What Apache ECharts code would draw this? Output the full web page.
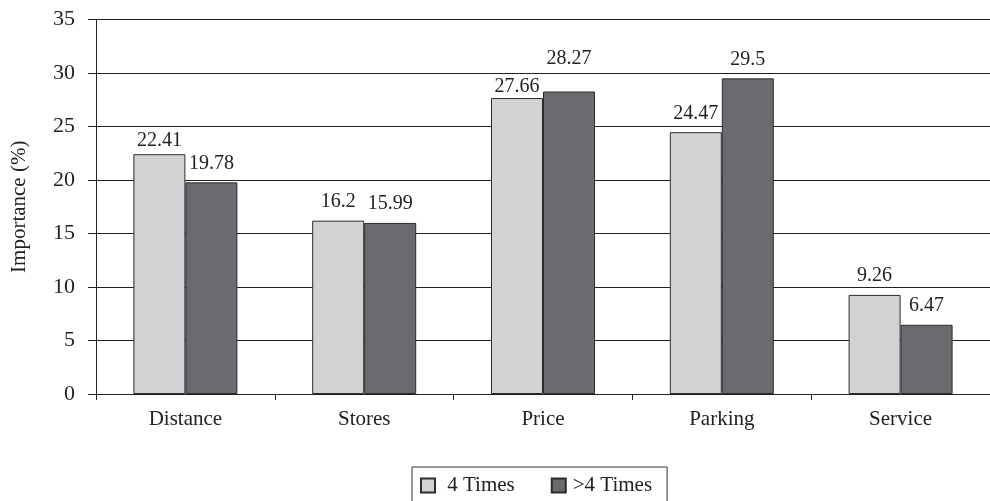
<!DOCTYPE html>
<html>
<head>
<meta charset="utf-8">
<script src="https://cdn.jsdelivr.net/npm/echarts@6/dist/echarts.min.js"></script>
<style>
  html, body { margin: 0; padding: 0; background: #fff; }
  #chart { width: 990px; height: 501px; }
</style>
</head>
<body>
<div id="chart"></div>
<script>
var categories = ["Distance", "Stores", "Price", "Parking", "Service"];
var seriesNames = ["4 Times", ">4 Times"];
var fourTimes = [22.41, 16.2, 27.66, 24.47, 9.26];
var moreThanFour = [19.78, 15.99, 28.27, 29.5, 6.47];
var yTicks = { min: 0, max: 35, interval: 5 };

var font = "'Liberation Serif', 'Times New Roman', serif";
var colors = ["#d1d2d4", "#6a6b6f"]; // light / dark grey
// label gap above each bar (the original labels were nudged by hand)
var labelGap = [
  [3, 9, 1, 8, 9],
  [9, 9, 23, 9, 9]
];

function barSeries(idx, data) {
  return {
    name: seriesNames[idx],
    type: "bar",
    data: data.map(function (v, i) {
      return { value: v, label: { distance: labelGap[idx][i] } };
    }),
    barWidth: 52,
    barGap: "0%",
    itemStyle: { color: colors[idx], borderColor: "#2b2b2b", borderWidth: 1 },
    label: {
      show: true,
      position: "top",
      color: "#222",
      fontFamily: font,
      fontSize: 20
    }
  };
}

var chart = echarts.init(document.getElementById("chart"));
chart.setOption({
  animation: false,
  backgroundColor: "#fff",
  grid: { left: 96, right: 0, top: 19.5, bottom: 107, containLabel: false, outerBoundsMode: "none" },
  legend: {
    data: seriesNames,
    icon: "rect",
    left: 412,
    top: 467,
    padding: [8, 15, 10, 8],
    itemWidth: 14,
    itemHeight: 14,
    itemGap: 36,
    borderColor: "#333",
    borderWidth: 1,
    formatter: function (name) { return name === seriesNames[0] ? " " + name : name; },
    textStyle: { fontFamily: font, fontSize: 21, color: "#222", padding: [0, 0, 0, 2] }
  },
  xAxis: {
    type: "category",
    data: categories,
    axisLine: { lineStyle: { color: "#222", width: 1 } },
    axisTick: { show: true, length: 6, lineStyle: { color: "#222" } },
    axisLabel: { margin: 15, color: "#222", fontFamily: font, fontSize: 21 }
  },
  yAxis: {
    type: "value",
    min: yTicks.min,
    max: yTicks.max,
    interval: yTicks.interval,
    name: "Importance (%)",
    nameLocation: "middle",
    nameGap: 66,
    nameTextStyle: { color: "#222", fontFamily: font, fontSize: 21 },
    axisLine: { show: true, lineStyle: { color: "#222", width: 1 } },
    axisTick: { show: true, length: 8, lineStyle: { color: "#222" } },
    axisLabel: { margin: 21, color: "#222", fontFamily: font, fontSize: 22 },
    splitLine: { lineStyle: { color: "#222", width: 1 } }
  },
  series: [
    barSeries(0, fourTimes),
    barSeries(1, moreThanFour)
  ]
});
</script>
</body>
</html>
